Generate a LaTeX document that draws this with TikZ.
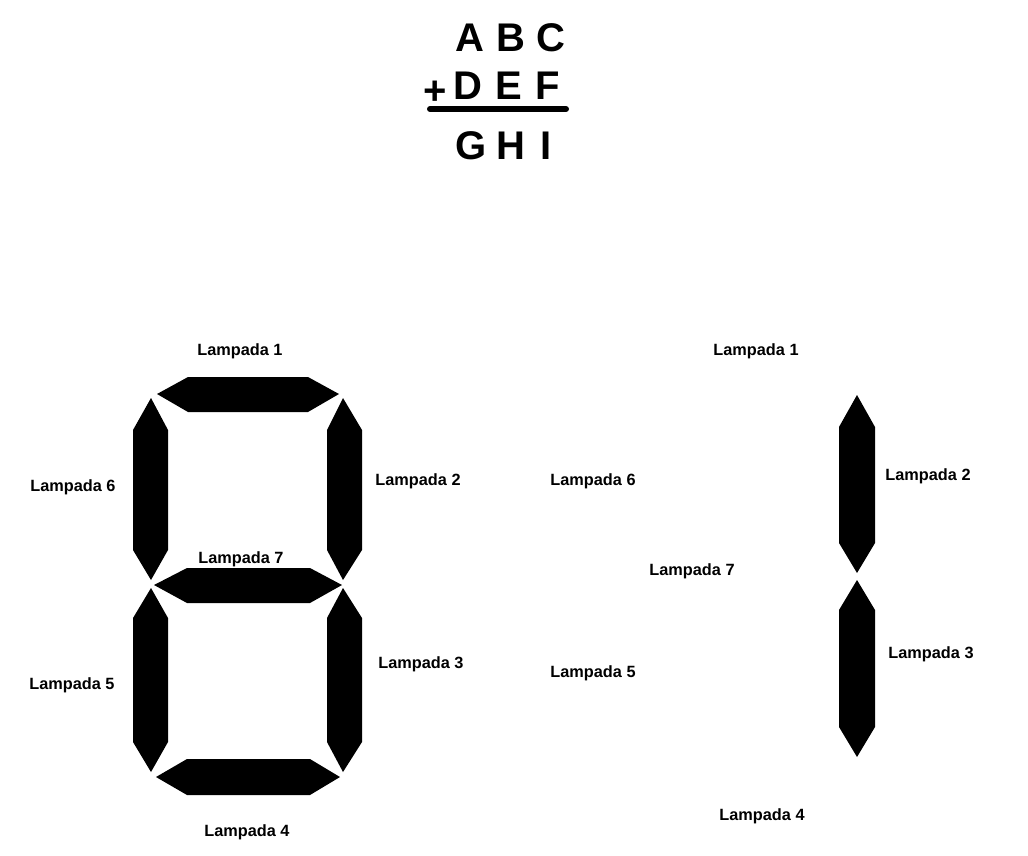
\documentclass[tikz,border=0pt]{standalone}
\usepackage{fontspec}
\setmainfont{Liberation Sans}
\begin{document}
\begin{tikzpicture}[x=1pt,y=-1pt,
  seg/.style={fill=black},
  lbl/.style={font=\bfseries\fontsize{16.3}{19}\selectfont, inner sep=0pt},
  big/.style={font=\bfseries\fontsize{40}{48}\selectfont, inner sep=0pt}]
\useasboundingbox[fill=white] (0,0) rectangle (1028,855);
% sum
\node[big] (A) at (470,38) {A};
\node[big] (B) at (511,38) {B};
\node[big] (C) at (551,38) {C};
\node[big] (plus) at (435,93) {+};
\node[big] (D) at (468,86) {D};
\node[big] (E) at (509,86) {E};
\node[big] (F) at (548,86) {F};
\node[big] (G) at (471,146) {G};
\node[big] (H) at (511,146) {H};
\node[big] (I) at (546,146) {I};
\draw[line width=6, line cap=round] (430,109) -- (566,109);
% left digit
\fill[seg] (157,394) -- (188,377) -- (308,377) -- (339,394) -- (308,412) -- (188,412) -- cycle;
\fill[seg] (151,398) -- (168,430) -- (168,550) -- (151,580) -- (133,550) -- (133,430) -- cycle;
\fill[seg] (343,398) -- (362,430) -- (362,550) -- (343,580) -- (327,550) -- (327,430) -- cycle;
\fill[seg] (154,585) -- (187,568) -- (310,568) -- (342,585) -- (310,603) -- (187,603) -- cycle;
\fill[seg] (151,588) -- (168,618) -- (168,742) -- (151,772) -- (133,742) -- (133,618) -- cycle;
\fill[seg] (343,588) -- (362,618) -- (362,742) -- (343,772) -- (327,742) -- (327,618) -- cycle;
\fill[seg] (156,777) -- (187,759) -- (310,759) -- (340,777) -- (310,795) -- (187,795) -- cycle;
\node[lbl] (l1) at (240,351) {Lampada 1};
\node[lbl] (l6) at (73,487) {Lampada 6};
\node[lbl] (l2) at (418,481) {Lampada 2};
\node[lbl] (l7) at (241,559) {Lampada 7};
\node[lbl] (l3) at (421,664) {Lampada 3};
\node[lbl] (l5) at (72,685) {Lampada 5};
\node[lbl] (l4) at (247,832) {Lampada 4};
% right digit
\fill[seg] (857,395) -- (875,427) -- (875,543) -- (857,573) -- (839,543) -- (839,427) -- cycle;
\fill[seg] (857,580) -- (875,610) -- (875,727) -- (857,757) -- (839,727) -- (839,610) -- cycle;
\node[lbl] (r1) at (756,351) {Lampada 1};
\node[lbl] (r6) at (593,481) {Lampada 6};
\node[lbl] (r2) at (928,476) {Lampada 2};
\node[lbl] (r7) at (692,571) {Lampada 7};
\node[lbl] (r3) at (931,654) {Lampada 3};
\node[lbl] (r5) at (593,673) {Lampada 5};
\node[lbl] (r4) at (762,816) {Lampada 4};
\end{tikzpicture}
\end{document}
